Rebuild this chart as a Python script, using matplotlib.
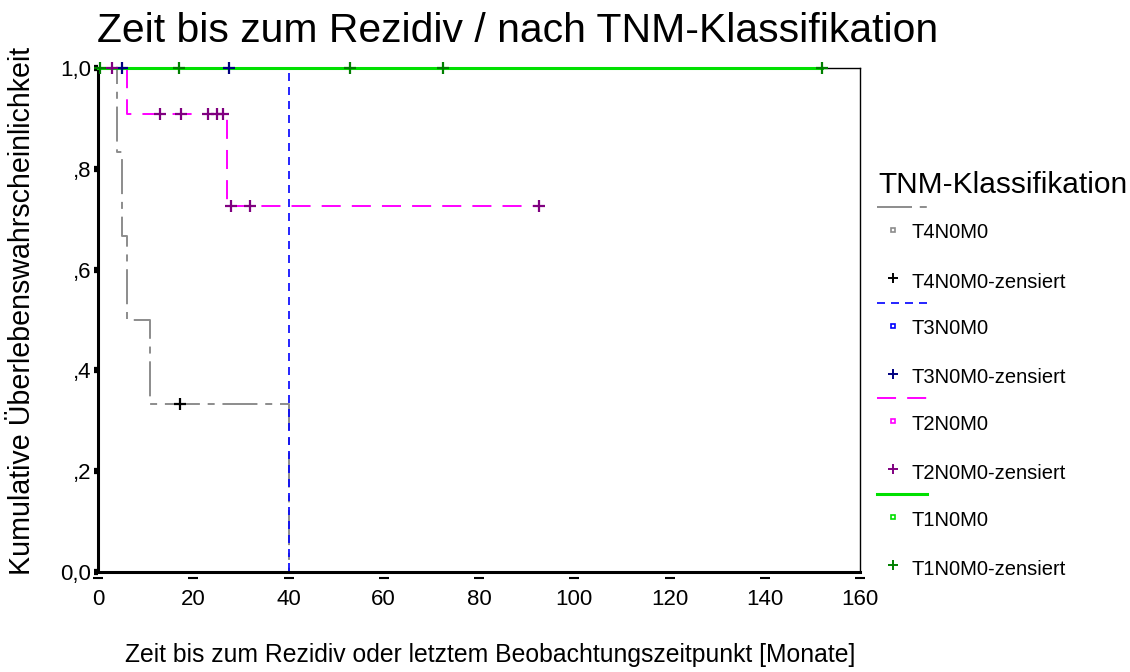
"""
Kaplan-Meier: Zeit bis zum Rezidiv nach TNM-Klassifikation
"""

import matplotlib.pyplot as plt
from matplotlib.lines import Line2D

plt.rcParams['font.family'] = ['Liberation Sans', 'DejaVu Sans']

# Step curves (time, cumulative survival)
t4_t = [0, 4, 5, 6, 11, 40]
t4_s = [1.0, 0.833, 0.667, 0.5, 0.333, 0.0]
t3_t = [0, 40]
t3_s = [1.0, 0.0]
t2_t = [0, 6, 27, 92.5]
t2_s = [1.0, 0.909, 0.727, 0.727]
t1_t = [0, 152]
t1_s = [1.0, 1.0]

# Censored observations
t4_ct = [17.2]
t4_cs = [0.333]
t3_ct = [5, 27.5]
t3_cs = [1.0, 1.0]
t2_ct = [3, 13, 17.4, 23, 25, 26.3, 28, 32, 92.5]
t2_cs = [1.0, 0.909, 0.909, 0.909, 0.909, 0.909, 0.727, 0.727, 0.727]
t1_ct = [0.4, 17, 53, 72.5, 152]
t1_cs = [1.0, 1.0, 1.0, 1.0, 1.0]

groups = ['T4N0M0', 'T3N0M0', 'T2N0M0', 'T1N0M0']
line_colors = ['#8c8c8c', '#0000ff', '#ff00ff', '#00e000']
cens_colors = ['#000000', '#000080', '#800080', '#008000']
line_styles = [(0, (18, 4, 3.6, 4)), (0, (4.8, 3.6)), (0, (9.8, 5.7)), '-']
line_widths = [1.4, 1.2, 1.4, 2.2]

xticks = [0, 20, 40, 60, 80, 100, 120, 140, 160]
yticks = [0.0, 0.2, 0.4, 0.6, 0.8, 1.0]
ytick_labels = ['0,0', ',2', ',4', ',6', ',8', '1,0']

fig = plt.figure(figsize=(11.3, 6.72), dpi=100)
ax = fig.add_axes([98 / 1130, 100 / 672, 762 / 1130, 504 / 672])

curves = [(t4_t, t4_s, t4_ct, t4_cs), (t3_t, t3_s, t3_ct, t3_cs),
          (t2_t, t2_s, t2_ct, t2_cs), (t1_t, t1_s, t1_ct, t1_cs)]

for i, (tt, ss, ct, cs) in enumerate(curves):
    ax.step(tt, ss, where='post', color=line_colors[i], linestyle=line_styles[i],
            linewidth=line_widths[i], zorder=2 + i, clip_on=False)
    ax.plot(ct, cs, linestyle='none', marker='+', markersize=8, markeredgewidth=1.6,
            color=cens_colors[i], zorder=7, clip_on=False)

ax.set_xlim(0, 160)
ax.set_ylim(0, 1.0)

ax.spines['left'].set_linewidth(2.2)
ax.spines['bottom'].set_linewidth(2.2)
ax.spines['top'].set_linewidth(1.0)
ax.spines['right'].set_linewidth(1.0)

ax.set_yticks(yticks)
ax.set_yticklabels(ytick_labels, fontsize=16)
ax.tick_params(axis='y', length=3, width=4.5, pad=2)

# x ticks drawn as short horizontal dashes below the axis (SPSS style)
ax.set_xticks(xticks)
ax.set_xticklabels([str(x) for x in xticks], fontsize=16)
ax.tick_params(axis='x', length=0, pad=12)
ax.plot(xticks, [-0.012] * len(xticks), linestyle='none', marker='_', markersize=7,
        markeredgewidth=1.5, color='black', clip_on=False)

fig.text(97 / 1130, 1 - 42 / 672, 'Zeit bis zum Rezidiv / nach TNM-Klassifikation',
         fontsize=29.4, ha='left', va='baseline')
fig.text(22 / 1130, 1 - 311 / 672, 'Kumulative Überlebenswahrscheinlichkeit',
         fontsize=20.6, rotation=90, ha='center', va='center')
fig.text(490 / 1130, 1 - 655 / 672,
         'Zeit bis zum Rezidiv oder letztem Beobachtungszeitpunkt [Monate]',
         fontsize=17.8, ha='center', va='center')

# Legend, drawn by hand
fig.text(878 / 1130, 1 - 185 / 672, 'TNM-Klassifikation', fontsize=21.5,
         ha='left', va='center')
row0 = 207
for i, g in enumerate(groups):
    y_line = row0 + i * 95.7
    fig.add_artist(Line2D([877 / 1130, 927 / 1130], [1 - y_line / 672] * 2,
                          transform=fig.transFigure, color=line_colors[i],
                          linestyle=line_styles[i], linewidth=line_widths[i]))
    y_ev = y_line + 26
    fig.add_artist(Line2D([893 / 1130], [1 - (y_ev - 3) / 672], transform=fig.transFigure,
                          marker='s', markersize=3.5, markerfacecolor='white',
                          markeredgecolor=line_colors[i], markeredgewidth=1.2,
                          linestyle='none'))
    fig.text(912 / 1130, 1 - y_ev / 672, g, fontsize=14.5, ha='left', va='center')
    y_c = y_line + 75
    fig.add_artist(Line2D([893 / 1130], [1 - (y_c - 4) / 672], transform=fig.transFigure,
                          marker='+', markersize=7, markeredgewidth=1.4,
                          color=cens_colors[i], linestyle='none'))
    fig.text(912 / 1130, 1 - y_c / 672, g + '-zensiert', fontsize=14.5,
             ha='left', va='center')

plt.savefig('out.png', dpi=100)
plt.close()
